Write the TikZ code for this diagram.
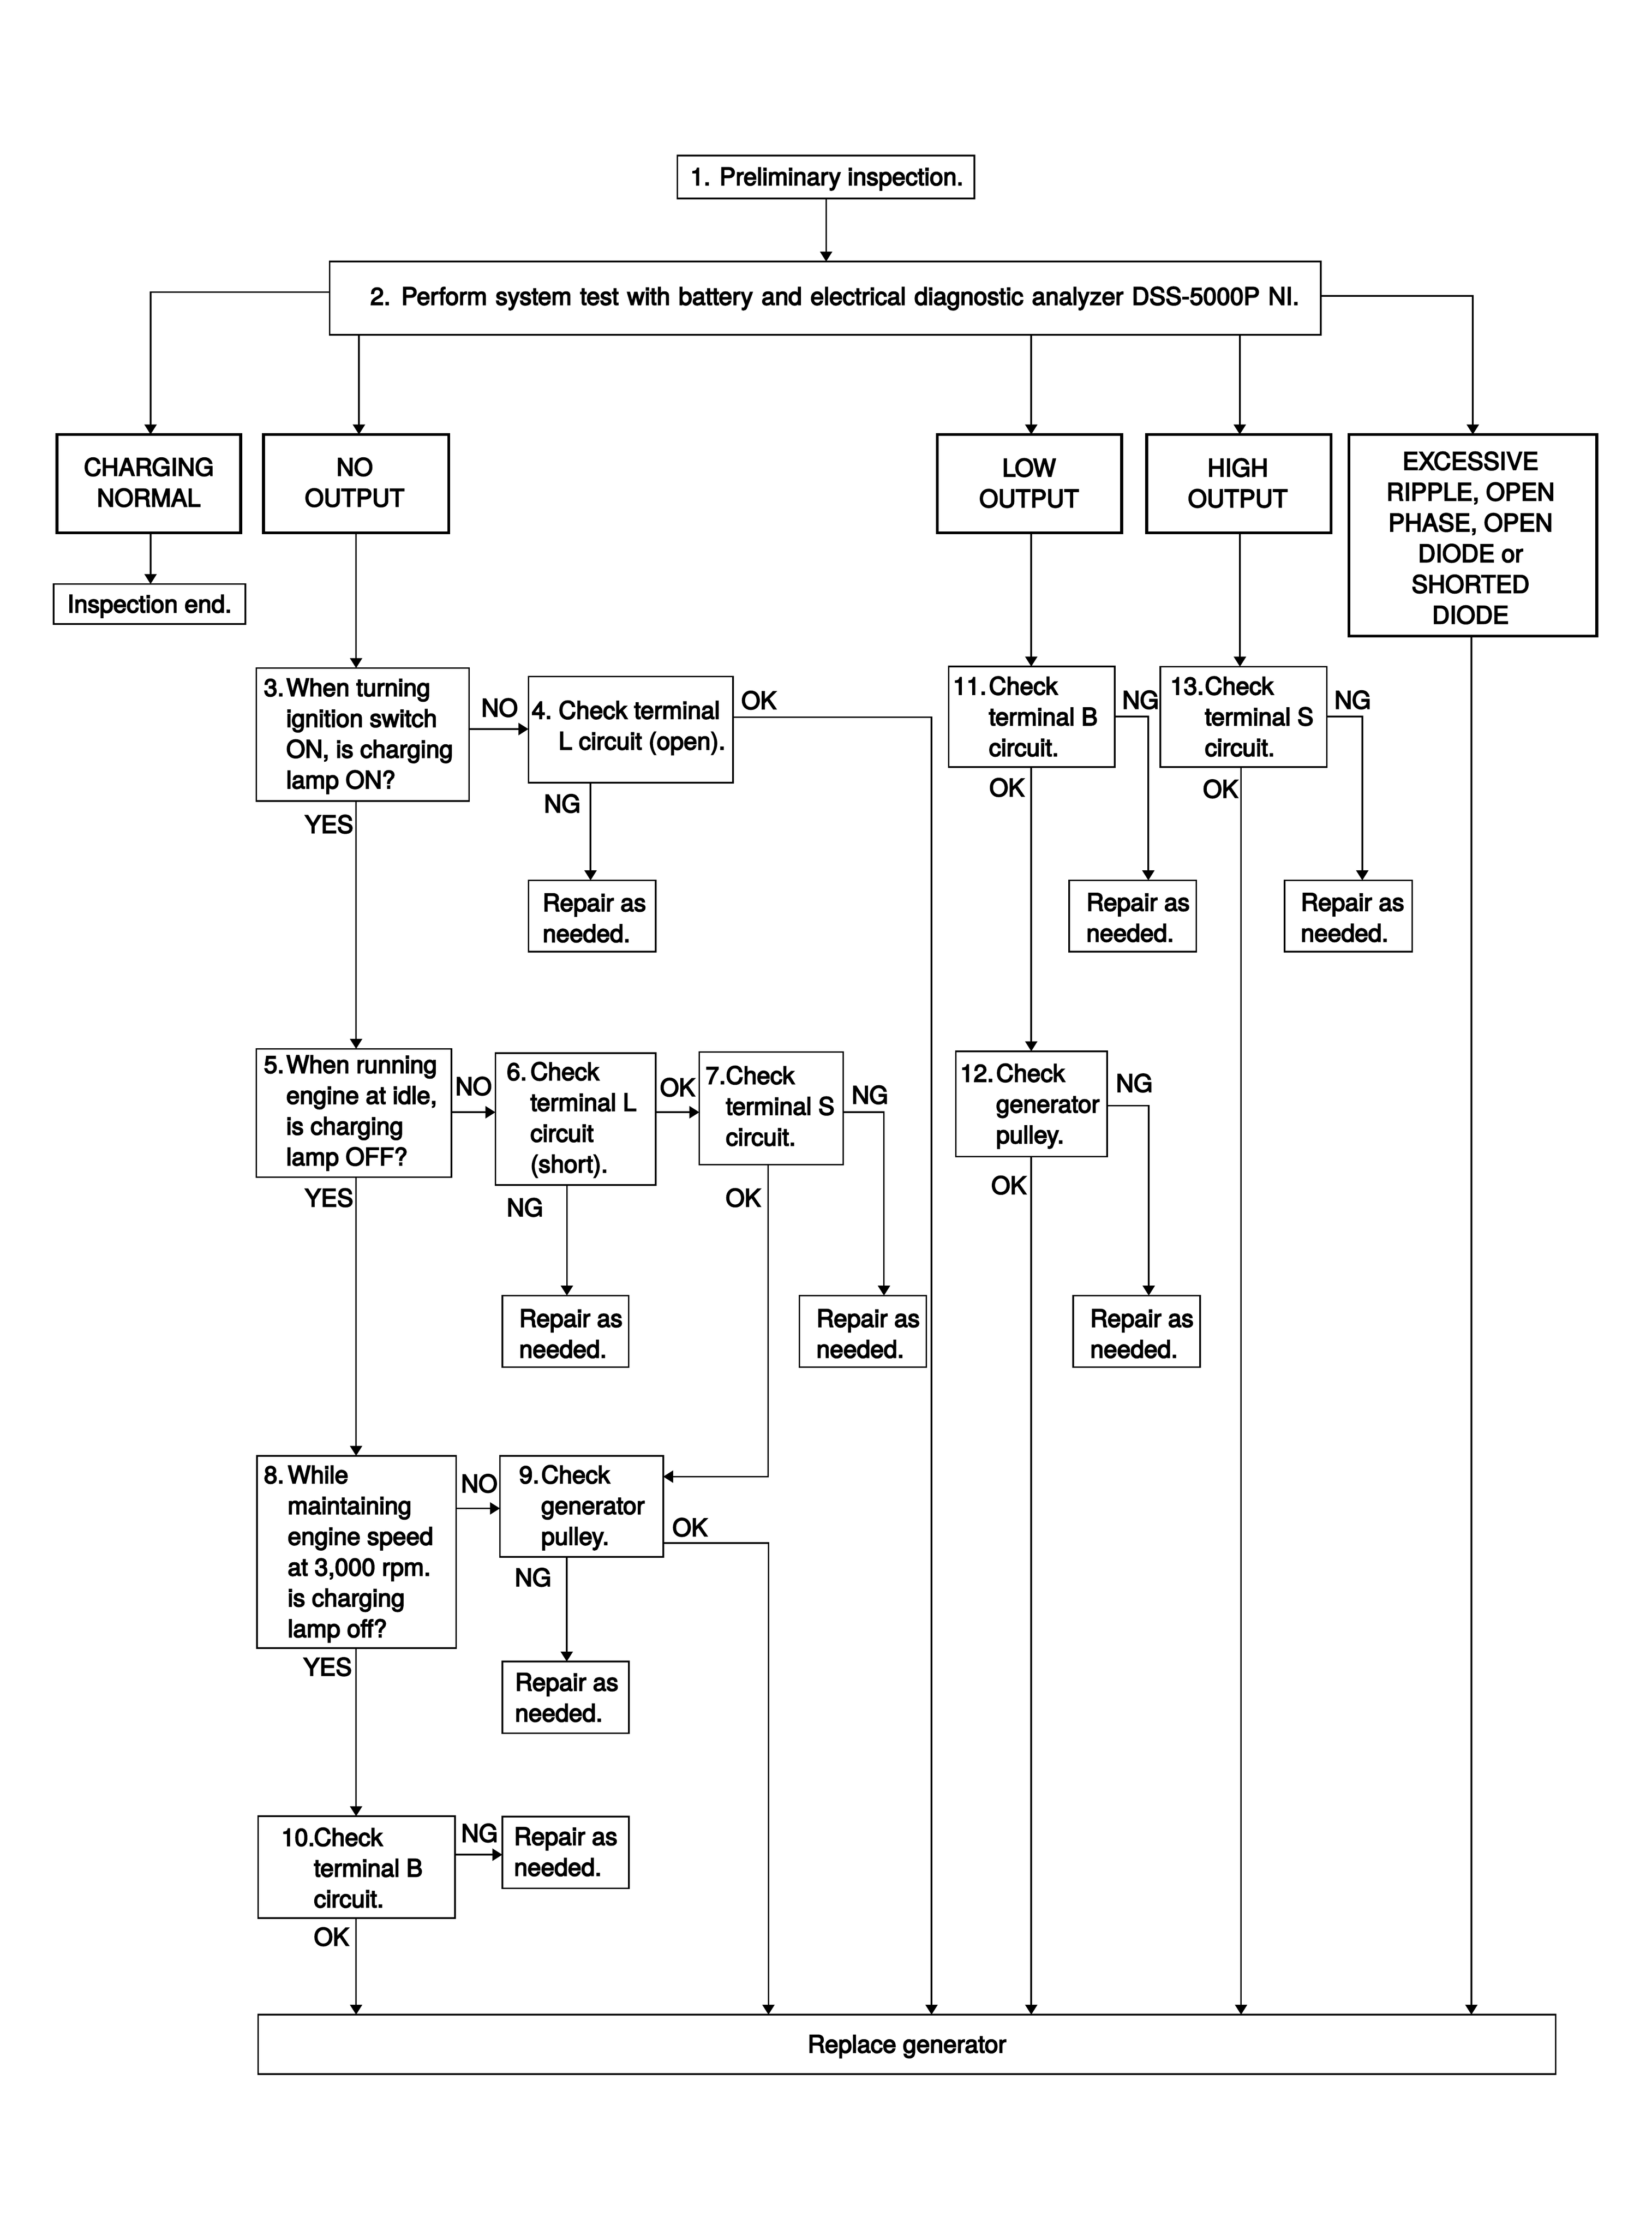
\documentclass[tikz,border=0pt]{standalone}
\usepackage{fontspec}
\setmainfont{TeX Gyre Heros}[FakeBold=4]
\usetikzlibrary{arrows.meta}
\newcommand\fsz{\fontsize{17}{21.6}\selectfont}
\newcommand\bx[6]{\node[#6,anchor=north west,minimum width={#4-#2},minimum height={#5-#3}] (#1) at (#2,#3) {};}
\newcommand\ml[1]{\begin{tabular}[t]{@{}l@{}}#1\end{tabular}}
\newcommand\mc[1]{\begin{tabular}[t]{@{}c@{}}#1\end{tabular}}
\begin{document}
\begin{tikzpicture}[x=1pt,y=-1pt,
  box/.style={draw,line width=1.1pt,inner sep=0pt,outer sep=0pt},
  tbox/.style={draw,line width=2pt,inner sep=0pt,outer sep=0pt},
  txt/.style={inner sep=0pt,outer sep=0pt,anchor=base west,font=\fsz},
  ctxt/.style={inner sep=0pt,outer sep=0pt,anchor=base,font=\fsz},
  arr/.style={line width=1.1pt,-{Triangle[length=7pt,width=8.5pt]}}]
\useasboundingbox[fill=white] (0,0) rectangle (1159.5,1569);

% boxes
\bx{b1}{475.5}{109.2}{684}{139.4}{box}
\bx{b2}{231.5}{183.6}{927.3}{235}{box}
\bx{bCN}{40}{305}{169}{374}{tbox}
\bx{bNO}{185}{305}{315}{374}{tbox}
\bx{bLOW}{658}{305}{787.5}{374}{tbox}
\bx{bHIGH}{805}{305}{934.5}{374}{tbox}
\bx{bEX}{947}{305}{1121}{446.6}{tbox}
\bx{bIE}{37.7}{410}{172.3}{438}{box}
\bx{b3}{180}{469}{329.4}{562.3}{box}
\bx{b4}{371}{475}{514.7}{549.4}{box}
\bx{r4}{371}{618}{460.3}{668}{box}
\bx{b5}{180}{736.3}{317}{826.4}{box}
\bx{b6}{347.8}{739.3}{460.3}{831.9}{box}
\bx{b7}{491}{738.5}{592}{817.6}{box}
\bx{r6}{352.7}{909.5}{441.4}{959.8}{box}
\bx{r7}{561.3}{909.5}{650.4}{959.8}{box}
\bx{b8}{180.4}{1022}{320.2}{1157}{box}
\bx{b9}{351}{1022}{465.6}{1092.9}{box}
\bx{r9}{352.7}{1166.4}{441.5}{1216.8}{box}
\bx{b10}{181.2}{1275}{319.5}{1346.5}{box}
\bx{r10}{352.7}{1275.3}{441.5}{1325.7}{box}
\bx{b11}{666}{467.9}{782.6}{538.4}{box}
\bx{r11}{750.6}{618}{839.8}{668}{box}
\bx{b12}{671}{738}{777.2}{812}{box}
\bx{r12}{753.5}{909.5}{842.5}{959.8}{box}
\bx{b13}{814.6}{468}{931.5}{538.4}{box}
\bx{r13}{901.8}{618}{991.4}{668}{box}
\bx{bRG}{181.2}{1414.3}{1092.2}{1456}{box}

% texts in boxes
\node[ctxt] (t1) at (580.5,130) {1. Preliminary inspection.};
\node[txt] (t2) at (260,214) {\spaceskip=6pt plus 1pt 2. Perform system test with battery and electrical diagnostic analyzer DSS-5000P NI.};
\node[ctxt] (tCN) at (104.5,334) {\mc{CHARGING\\NORMAL}};
\node[ctxt] (tNO) at (249,334) {\mc{NO\\OUTPUT}};
\node[ctxt] (tLOW) at (722.5,334.5) {\mc{LOW\\OUTPUT}};
\node[ctxt] (tHIGH) at (869,334.5) {\mc{HIGH\\OUTPUT}};
\node[ctxt] (tEX) at (1032.4,329.8) {\mc{EXCESSIVE\\RIPPLE, OPEN\\PHASE, OPEN\\DIODE or\\SHORTED\\DIODE}};
\node[ctxt] (tIE) at (105,430) {Inspection end.};

\node[txt] (n3) at (185.3,488.7) {3.};
\node[txt] (t3) at (201,488.7) {\ml{When turning\\ignition switch\\ON, is charging\\lamp ON?}};
\node[txt] (n4) at (373.3,504.6) {4.};
\node[txt] (t4) at (392.2,504.6) {\ml{Check terminal\\L circuit (open).}};
\node[txt] (tr4) at (381,639.7) {\ml{Repair as\\needed.}};
\node[txt] (n5) at (185.3,753.3) {5.};
\node[txt] (t5) at (201,753.3) {\ml{When running\\engine at idle,\\is charging\\lamp OFF?}};
\node[txt] (n6) at (355.8,758.3) {6.};
\node[txt] (t6) at (372.4,758.3) {\ml{Check\\terminal L\\circuit\\(short).}};
\node[txt] (n7) at (495.4,761) {7.};
\node[txt] (t7) at (509.6,761) {\ml{Check\\terminal S\\circuit.}};
\node[txt] (tr6) at (364.5,931.5) {\ml{Repair as\\needed.}};
\node[txt] (tr7) at (573.2,931.5) {\ml{Repair as\\needed.}};
\node[txt] (n8) at (185.3,1041.3) {8.};
\node[txt] (t8) at (202,1041.3) {\ml{While\\maintaining\\engine speed\\at 3,000 rpm.\\is charging\\lamp off?}};
\node[txt] (n9) at (364.5,1041.3) {9.};
\node[txt] (t9) at (380,1041.3) {\ml{Check\\generator\\pulley.}};
\node[txt] (tr9) at (361.6,1186.9) {\ml{Repair as\\needed.}};
\node[txt] (n10) at (197.4,1295.8) {10.};
\node[txt] (t10) at (220.4,1295.8) {\ml{Check\\terminal B\\circuit.}};
\node[txt] (tr10) at (360.9,1295.2) {\ml{Repair as\\needed.}};
\node[txt] (n11) at (669,487.6) {11.};
\node[txt] (t11) at (694.3,487.6) {\ml{Check\\terminal B\\circuit.}};
\node[txt] (tr11) at (762.7,639.4) {\ml{Repair as\\needed.}};
\node[txt] (n12) at (674.1,759.4) {12.};
\node[txt] (t12) at (699.4,759.4) {\ml{Check\\generator\\pulley.}};
\node[txt] (tr12) at (765.4,931.5) {\ml{Repair as\\needed.}};
\node[txt] (n13) at (821.6,487.6) {13.};
\node[txt] (t13) at (845.9,487.6) {\ml{Check\\terminal S\\circuit.}};
\node[txt] (tr13) at (913.3,639.4) {\ml{Repair as\\needed.}};
\node[ctxt] (tRG) at (636.7,1441) {Replace generator};

% connector labels
\node[txt] (lNO3) at (338,503) {NO};
\node[txt] (lOK4) at (520.5,497.8) {OK};
\node[txt] (lNG4) at (382,570.3) {NG};
\node[txt] (lYES3) at (214,584.8) {YES};
\node[txt] (lNO5) at (319.7,768.7) {NO};
\node[txt] (lOK6) at (463.4,769.5) {OK};
\node[txt] (lNG7) at (598,774.8) {NG};
\node[txt] (lNG6) at (355.8,853.8) {NG};
\node[txt] (lOK7) at (509.5,847) {OK};
\node[txt] (lYES5) at (214,847) {YES};
\node[txt] (lNO8) at (323.7,1047.6) {NO};
\node[txt] (lOK9) at (472.1,1078.4) {OK};
\node[txt] (lNG9) at (361.5,1113.5) {NG};
\node[txt] (lYES8) at (213,1176.3) {YES};
\node[txt] (lNG10) at (323.9,1293) {NG};
\node[txt] (lOK10) at (220.4,1365.8) {OK};
\node[txt] (lNG11) at (788,497.5) {NG};
\node[txt] (lOK11) at (694.6,559) {OK};
\node[txt] (lNG13) at (936.9,497.5) {NG};
\node[txt] (lOK13) at (844.6,560) {OK};
\node[txt] (lNG12) at (783.6,766.5) {NG};
\node[txt] (lOK12) at (696,838.2) {OK};

% connectors
\draw[arr] (580,0 |- b1.south) -- (580,0 |- b2.north);
\draw[arr] (b2.west |- 0,205) -| (105.7,0 |- bCN.north);
\draw[arr] (b2.east |- 0,207.7) -| (1034,0 |- bEX.north);
\draw[arr] (252,0 |- b2.south) -- (252,0 |- bNO.north);
\draw[arr] (724,0 |- b2.south) -- (724,0 |- bLOW.north);
\draw[arr] (870.4,0 |- b2.south) -- (870.4,0 |- bHIGH.north);
\draw[arr] (105.7,0 |- bCN.south) -- (105.7,0 |- bIE.north);
\draw[arr] (250,0 |- bNO.south) -- (250,0 |- b3.north);
\draw[arr] (724,0 |- bLOW.south) -- (724,0 |- b11.north);
\draw[arr] (870.5,0 |- bHIGH.south) -- (870.5,0 |- b13.north);
\draw[arr] (1033,0 |- bEX.south) -- (1033,0 |- bRG.north);
\draw[arr] (b3.east |- 0,511.8) -- (b4.west |- 0,511.8);
\draw[arr] (b4.east |- 0,503.5) -| (654,0 |- bRG.north);
\draw[arr] (414.6,0 |- b4.south) -- (414.6,0 |- r4.north);
\draw[arr] (250,0 |- b3.south) -- (250,0 |- b5.north);
\draw[arr] (b5.east |- 0,780.8) -- (b6.west |- 0,780.8);
\draw[arr] (b6.east |- 0,780.8) -- (b7.west |- 0,780.8);
\draw[arr] (b7.east |- 0,780.8) -| (620.6,0 |- r7.north);
\draw[arr] (398,0 |- b6.south) -- (398,0 |- r6.north);
\draw[arr] (539.3,0 |- b7.south) |- (b9.east |- 0,1036.6);
\draw[arr] (250,0 |- b5.south) -- (250,0 |- b8.north);
\draw[arr] (b8.east |- 0,1058.9) -- (b9.west |- 0,1058.9);
\draw[arr] (b9.east |- 0,1083.3) -| (539.5,0 |- bRG.north);
\draw[arr] (397.9,0 |- b9.south) -- (397.9,0 |- r9.north);
\draw[arr] (250,0 |- b8.south) -- (250,0 |- b10.north);
\draw[arr] (b10.east |- 0,1302) -- (r10.west |- 0,1302);
\draw[arr] (250,0 |- b10.south) -- (250,0 |- bRG.north);
\draw[arr] (b11.east |- 0,503) -| (806.2,0 |- r11.north);
\draw[arr] (724,0 |- b11.south) -- (724,0 |- b12.north);
\draw[arr] (b12.east |- 0,776.1) -| (806.5,0 |- r12.north);
\draw[arr] (724,0 |- b12.south) -- (724,0 |- bRG.north);
\draw[arr] (b13.east |- 0,503) -| (956.4,0 |- r13.north);
\draw[arr] (871.3,0 |- b13.south) -- (871.3,0 |- bRG.north);
\end{tikzpicture}
\end{document}
